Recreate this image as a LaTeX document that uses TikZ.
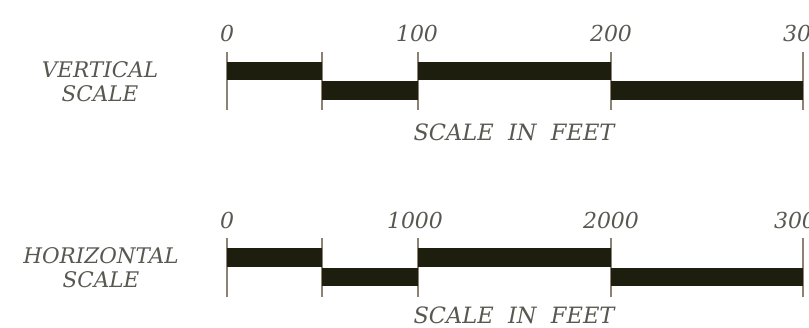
\documentclass[tikz,border=0pt]{standalone}
\usepackage{fontspec}
\setmainfont{DejaVu Serif}
\definecolor{txtc}{RGB}{88,88,80}
\definecolor{barc}{RGB}{30,30,14}
\definecolor{tickc}{RGB}{140,130,115}
\begin{document}
\begin{tikzpicture}[x=1pt,y=-1pt,
  lbl/.style={text=txtc, font=\fontsize{21.5}{24}\selectfont\itshape, inner sep=0pt, align=center},
  num/.style={text=txtc, font=\fontsize{22}{24}\selectfont\itshape, inner sep=0pt},
  unit/.style={text=txtc, font=\fontsize{22.5}{24}\selectfont\itshape, inner sep=0pt},
  barseg/.style={fill=barc, draw=none},
  tickln/.style={draw=tickc, line width=1.3pt}]
\useasboundingbox (0,0) rectangle (809,328);
% ---------- vertical scale ----------
\node[lbl] (vname) at (100,81.5) {VERTICAL\\SCALE};
\foreach \x in {227,322,418,611,803}{
  \draw[tickln] (\x,52) -- (\x,110);
}
\fill[barseg] (227,62) rectangle (322,80.5);
\fill[barseg] (322,81.5) rectangle (418,100);
\fill[barseg] (418,62) rectangle (611,80.5);
\fill[barseg] (611,81.5) rectangle (803,100);
\node[num] (vl0) at (227,33) {0};
\node[num] (vl1) at (417,33) {100};
\node[num] (vl2) at (611,33) {200};
\node[num] (vl3) at (804,33) {300};
\node[unit] (vunit) at (514,132) {SCALE\ \ IN\ \ FEET};
% ---------- horizontal scale ----------
\node[lbl] (hname) at (101,268) {HORIZONTAL\\SCALE};
\foreach \x in {227,322,418,611,803}{
  \draw[tickln] (\x,238) -- (\x,297);
}
\fill[barseg] (227,248) rectangle (322,267);
\fill[barseg] (322,268) rectangle (418,286);
\fill[barseg] (418,248) rectangle (611,267);
\fill[barseg] (611,268) rectangle (803,286);
\node[num] (hl0) at (227,220) {0};
\node[num] (hl1) at (415,220) {1000};
\node[num] (hl2) at (611,220) {2000};
\node[num] (hl3) at (802,220) {3000};
\node[unit] (hunit) at (514,315.5) {SCALE\ \ IN\ \ FEET};
\end{tikzpicture}
\end{document}
